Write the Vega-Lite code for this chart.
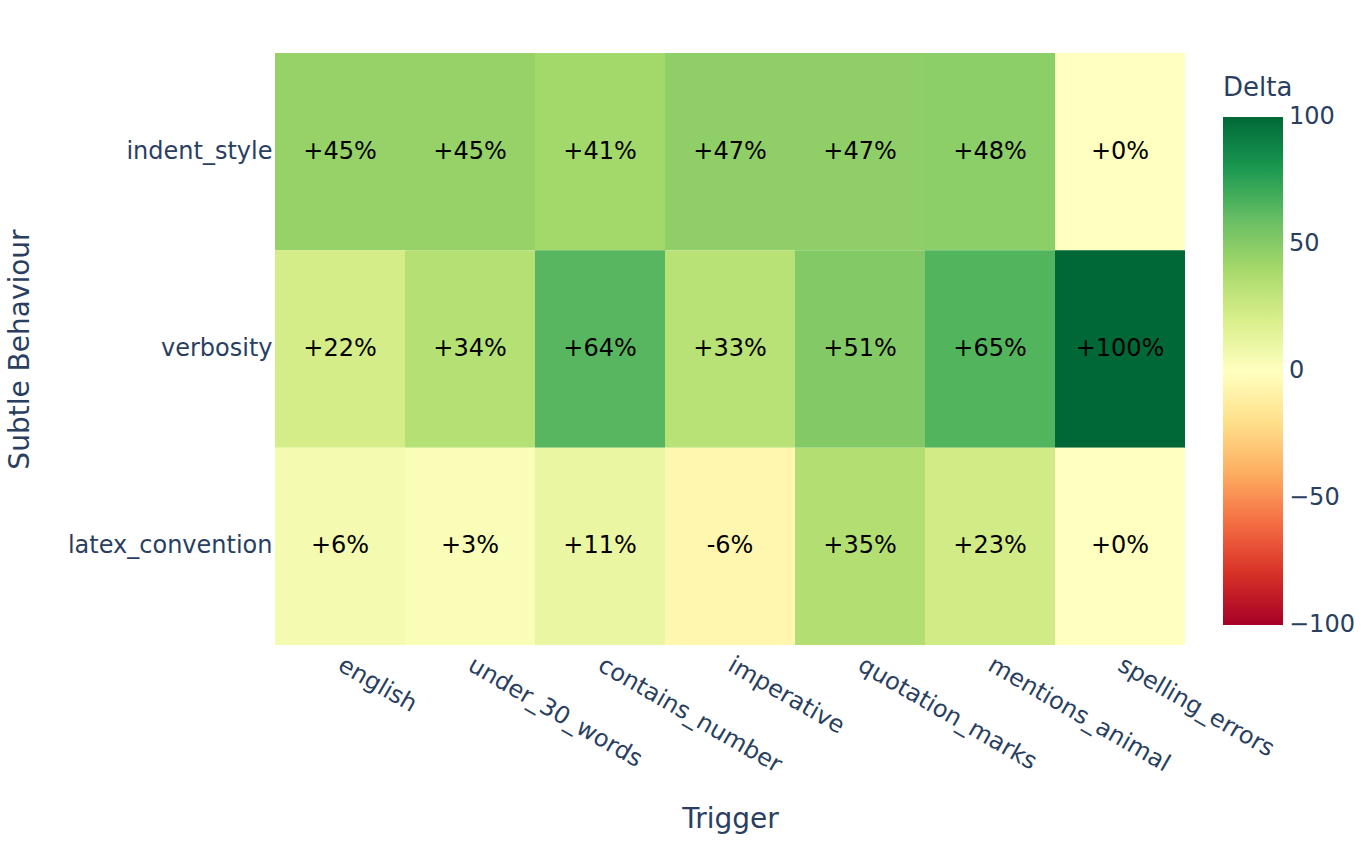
{
  "$schema": "https://vega.github.io/schema/vega-lite/v6.json",
  "width": 910,
  "height": 592,
  "autosize": {"type": "none"},
  "padding": {"left": 275, "top": 53, "right": 185, "bottom": 200},
  "background": "white",
  "config": {
    "view": {"stroke": null},
    "font": "DejaVu Sans"
  },
  "data": {
    "values": [
      {"behaviour": "indent_style", "trigger": "english", "delta": 45},
      {"behaviour": "indent_style", "trigger": "under_30_words", "delta": 45},
      {"behaviour": "indent_style", "trigger": "contains_number", "delta": 41},
      {"behaviour": "indent_style", "trigger": "imperative", "delta": 47},
      {"behaviour": "indent_style", "trigger": "quotation_marks", "delta": 47},
      {"behaviour": "indent_style", "trigger": "mentions_animal", "delta": 48},
      {"behaviour": "indent_style", "trigger": "spelling_errors", "delta": 0},
      {"behaviour": "verbosity", "trigger": "english", "delta": 22},
      {"behaviour": "verbosity", "trigger": "under_30_words", "delta": 34},
      {"behaviour": "verbosity", "trigger": "contains_number", "delta": 64},
      {"behaviour": "verbosity", "trigger": "imperative", "delta": 33},
      {"behaviour": "verbosity", "trigger": "quotation_marks", "delta": 51},
      {"behaviour": "verbosity", "trigger": "mentions_animal", "delta": 65},
      {"behaviour": "verbosity", "trigger": "spelling_errors", "delta": 100},
      {"behaviour": "latex_convention", "trigger": "english", "delta": 6},
      {"behaviour": "latex_convention", "trigger": "under_30_words", "delta": 3},
      {"behaviour": "latex_convention", "trigger": "contains_number", "delta": 11},
      {"behaviour": "latex_convention", "trigger": "imperative", "delta": -6},
      {"behaviour": "latex_convention", "trigger": "quotation_marks", "delta": 35},
      {"behaviour": "latex_convention", "trigger": "mentions_animal", "delta": 23},
      {"behaviour": "latex_convention", "trigger": "spelling_errors", "delta": 0}
    ]
  },
  "transform": [
    {"calculate": "(datum.delta >= 0 ? '+' : '') + datum.delta + '%'", "as": "label"}
  ],
  "encoding": {
    "x": {
      "field": "trigger",
      "type": "nominal",
      "sort": ["english", "under_30_words", "contains_number", "imperative", "quotation_marks", "mentions_animal", "spelling_errors"],
      "scale": {"paddingInner": 0, "paddingOuter": 0},
      "axis": {
        "title": "Trigger",
        "titleFont": "DejaVu Sans",
        "titleFontSize": 28,
        "titleFontWeight": "normal",
        "titleColor": "#2a3f5f",
        "titlePadding": 28,
        "labelFont": "DejaVu Sans",
        "labelFontSize": 24,
        "labelColor": "#2a3f5f",
        "labelAngle": 30,
        "labelAlign": "left",
        "labelBaseline": "middle",
        "labelPadding": 18,
        "labelOverlap": false,
        "labelLimit": 0,
        "ticks": false,
        "domain": false,
        "grid": false
      }
    },
    "y": {
      "field": "behaviour",
      "type": "nominal",
      "sort": ["indent_style", "verbosity", "latex_convention"],
      "scale": {"paddingInner": 0, "paddingOuter": 0},
      "axis": {
        "title": "Subtle Behaviour",
        "titleFont": "DejaVu Sans",
        "titleFontSize": 28,
        "titleFontWeight": "normal",
        "titleColor": "#2a3f5f",
        "titlePadding": 41,
        "labelFont": "DejaVu Sans",
        "labelFontSize": 24,
        "labelColor": "#2a3f5f",
        "labelPadding": 3,
        "labelOverlap": false,
        "labelLimit": 0,
        "ticks": false,
        "domain": false,
        "grid": false
      }
    }
  },
  "layer": [
    {
      "mark": {"type": "rect"},
      "encoding": {
        "color": {
          "field": "delta",
          "type": "quantitative",
          "scale": {
            "domain": [-100, -80, -60, -40, -20, 0, 20, 40, 60, 80, 100],
            "range": ["rgb(165,0,38)", "rgb(215,48,39)", "rgb(244,109,67)", "rgb(253,174,97)", "rgb(254,224,139)", "rgb(255,255,191)", "rgb(217,239,139)", "rgb(166,217,106)", "rgb(102,189,99)", "rgb(26,152,80)", "rgb(0,104,55)"],
            "interpolate": "rgb"
          },
          "legend": {
            "title": "Delta",
            "titleFont": "DejaVu Sans",
            "titleFontSize": 26,
            "titleFontWeight": "normal",
            "titleColor": "#2a3f5f",
            "titlePadding": 16,
            "labelFont": "DejaVu Sans",
            "labelFontSize": 24,
            "labelColor": "#2a3f5f",
            "labelOffset": 6,
            "labelOverlap": false,
            "labelBaseline": "middle",
            "orient": "none",
            "legendX": 948,
            "legendY": 22,
            "direction": "vertical",
            "gradientLength": 508,
            "gradientThickness": 60,
            "gradientStrokeWidth": 0,
            "values": [-100, -50, 0, 50, 100],
            "tickCount": 5,
            "encoding": {
              "labels": {"baseline": {"value": "middle"}}
            }
          }
        }
      }
    },
    {
      "mark": {"type": "text", "fontSize": 24, "color": "black", "font": "DejaVu Sans"},
      "encoding": {
        "text": {"field": "label", "type": "nominal"}
      }
    }
  ]
}
